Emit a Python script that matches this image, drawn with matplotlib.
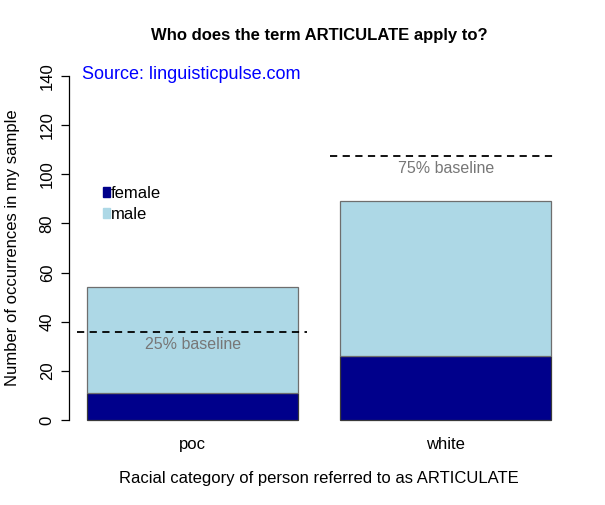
import matplotlib
matplotlib.use("Agg")
import matplotlib.pyplot as plt

plt.rcParams["font.family"] = ["Liberation Sans", "DejaVu Sans"]

# data
categories = ["poc", "white"]
female = [11, 26]
male = [43, 63]
baseline_labels = ["25% baseline", "75% baseline"]
baseline_values = [35.75, 107.25]
y_ticks = [0, 20, 40, 60, 80, 100, 120, 140]

fig = plt.figure(figsize=(6.05, 5.05), dpi=100)
ax = fig.add_axes([0.1134, 0.1406, 0.8286, 0.7364])

# R barplot layout: width 1, space 0.2
lefts = [0.2 + 1.2 * i for i in range(len(categories))]
centers = [l + 0.5 for l in lefts]

ax.bar(centers, female, width=1.0, color="#00008B", edgecolor="#3a3a3a", linewidth=0.9)
ax.bar(centers, male, width=1.0, bottom=female, color="#ADD8E6",
       edgecolor="#6e6e6e", linewidth=0.9)

# dashed baselines with labels just below
seg = [(0.15, 1.24), (1.35, 2.41)]
for (x0, x1), val, lab, c in zip(seg, baseline_values, baseline_labels, centers):
    ax.plot([x0, x1], [val, val], color="black", linestyle=(0, (4, 3)), linewidth=1.3)
    ax.text(c, val - 1.8, lab, ha="center", va="top", color="#777777",
            fontsize=11.5)

ax.set_xlim(0.112, 2.488)
ax.set_ylim(-5.6, 145.6)
ax.set_yticks(y_ticks)
ax.set_yticklabels([str(t) for t in y_ticks], rotation=90, va="center", fontsize=12)
ax.set_xticks([])
for c, name in zip(centers, categories):
    ax.text(c, -7.0, name, ha="center", va="top", fontsize=12)

for s in ["top", "right", "bottom"]:
    ax.spines[s].set_visible(False)
ax.spines["left"].set_bounds(0, 140)
ax.spines["left"].set_linewidth(0.9)
ax.tick_params(axis="y", length=6, width=0.9, pad=4)

ax.set_ylabel("Number of occurrences in my sample", fontsize=12, labelpad=14)
ax.text(0.5, -0.121, "Racial category of person referred to as ARTICULATE",
        transform=ax.transAxes, ha="center", va="center", fontsize=12)
fig.text(0.5275, 0.93, "Who does the term ARTICULATE apply to?", ha="center",
         va="center", fontsize=12, fontweight="bold")

ax.text(0.027, 140.5, "Source: linguisticpulse.com", color="blue", fontsize=13,
        ha="left", va="center", transform=ax.get_yaxis_transform())

# legend, R style without a box
leg = ax.legend(handles=[plt.Rectangle((0, 0), 1, 1, color="#00008B"),
                         plt.Rectangle((0, 0), 1, 1, color="#ADD8E6")],
                labels=["female", "male"], loc="upper left",
                bbox_to_anchor=(0.055, 0.686), frameon=False, fontsize=12,
                handlelength=0.45, handleheight=0.55, handletextpad=0.05,
                labelspacing=0.4, borderaxespad=0)

fig.savefig("out.png", dpi=100)
